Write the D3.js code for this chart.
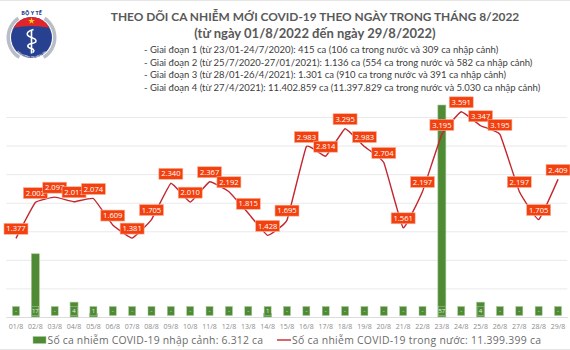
<!doctype html>
<html>
<head>
<meta charset="utf-8">
<script src="https://cdn.jsdelivr.net/npm/d3@7"></script>
<style>
  html, body { margin: 0; padding: 0; background: #fff; }
  svg { display: block; }
</style>
</head>
<body>
<script>
const days = ["01/8","02/8","03/8","04/8","05/8","06/8","07/8","08/8","09/8","10/8","11/8","12/8","13/8","14/8","15/8","16/8","17/8","18/8","19/8","20/8","21/8","22/8","23/8","24/8","25/8","26/8","27/8","28/8","29/8"];
const imported = [0,17,0,4,1,0,0,0,0,0,0,0,0,1,0,0,0,0,0,0,0,0,57,0,4,0,0,0,0];
const domestic = [1377,2002,2097,2017,2074,1609,1381,1705,2340,2010,2367,2192,1815,1428,1695,2983,2814,3295,2983,2704,1561,2197,3195,3591,3347,3195,2197,1705,2409];
const gridTicks = [0,500,1000,1500,2000,2500,3000,3500];

const titleLines = [
  "THEO DÕI CA NHIỄM MỚI COVID-19 THEO NGÀY TRONG THÁNG 8/2022",
  "(từ ngày 01/8/2022 đến ngày 29/8/2022)"
];
const phaseLines = [
  "- Giai đoạn 1 (từ 23/01-24/7/2020): 415 ca (106 ca trong nước và 309 ca nhập cảnh)",
  "- Giai đoạn 2 (từ 25/7/2020-27/01/2021): 1.136 ca (554 ca trong nước và 582 ca nhập cảnh)",
  "- Giai đoạn 3 (từ 28/01-26/4/2021): 1.301 ca (910 ca trong nước và 391 ca nhập cảnh)",
  "- Giai đoạn 4 (từ 27/4/2021): 11.402.859 ca (11.397.829 ca trong nước và 5.030 ca nhập cảnh)"
];
const legendImported = "Số ca nhiễm COVID-19 nhập cảnh: 6.312 ca";
const legendDomestic = "Số ca nhiễm COVID-19 trong nước: 11.399.399 ca";

const width = 570;
const height = 350;
const baseY = 317;

const RED = "#c4262e";
const LABEL_RED = "#f2410f";
const GREEN = "#4f8a35";
const TITLE_FONT = "Lato, 'Open Sans', sans-serif";
const LEGEND_FONT = "'Open Sans', 'Noto Sans', sans-serif";

const fmt = d3.formatLocale({ decimal: ",", thousands: ".", grouping: [3], currency: ["", ""] }).format(",d");

const x = d3.scaleBand().domain(days).range([6.3, 567.7]);
const cx = (d) => x(d) + x.bandwidth() / 2;
const yLine = d3.scaleLinear().domain([0, 3500]).range([baseY, 117]);
const yBar = d3.scaleLinear().domain([0, 57]).range([baseY, 105]);

const svg = d3.select("body").append("svg")
  .attr("width", width)
  .attr("height", height)
  .attr("viewBox", `0 0 ${width} ${height}`);

svg.append("rect").attr("width", width).attr("height", height).attr("fill", "#fff");

// Frame hairlines at the very top and bottom of the picture
svg.append("line").attr("x1", 0).attr("x2", width).attr("y1", 0.5).attr("y2", 0.5).attr("stroke", "#e6e6e6");
svg.append("line").attr("x1", 0).attr("x2", width).attr("y1", 349.5).attr("y2", 349.5).attr("stroke", "#e6e6e6");

// Logo
const logo = svg.append("g").attr("transform", "translate(31.5,37.5)");
const ring = d3.arc().innerRadius(21.5).outerRadius(25);
logo.append("path").attr("d", ring({ startAngle: 0.6, endAngle: Math.PI - 0.55 })).attr("fill", "#b9bec6");
logo.append("path").attr("d", ring({ startAngle: -Math.PI + 0.55, endAngle: -0.6 })).attr("fill", "#b9bec6");
logo.append("circle").attr("r", 20.5).attr("fill", "#27408f");
logo.append("path").attr("d", "M-14.5,-14.5 A20.5,20.5 0 0 1 14.5,-14.5 L18,-9.8 Q0,-13 -18,-9.8 Z").attr("fill", "#e0262c");
logo.append("path").attr("d", d3.symbol(d3.symbolStar, 14)()).attr("transform", "translate(0,-16.5)").attr("fill", "#f7d117");
logo.append("line").attr("x1", 0).attr("x2", 0).attr("y1", -7).attr("y2", 16).attr("stroke", "#fff").attr("stroke-width", 1.6);
logo.append("path")
  .attr("d", "M2,-8 C-6,-6 -6,-2 0,0 C6,2 6,5 0,6 C-5,7 -5,10 0,11 C3,12 3,14 1,15")
  .attr("fill", "none").attr("stroke", "#fff").attr("stroke-width", 1.5);
logo.append("text").attr("y", -22.5).attr("text-anchor", "middle")
  .attr("font-family", LEGEND_FONT).attr("font-size", 5.5).attr("font-weight", 700).attr("fill", "#27408f")
  .text("BỘ Y TẾ");
logo.append("path").attr("id", "logoArc").attr("fill", "none").attr("d", "M-19,9 A21,21 0 0 0 19,9");
logo.append("text").attr("font-family", LEGEND_FONT).attr("font-size", 3.2).attr("font-weight", 600).attr("fill", "#fff")
  .append("textPath").attr("href", "#logoArc").attr("startOffset", "50%").attr("text-anchor", "middle")
  .text("MINISTRY OF HEALTH");

// Heading
svg.append("g").selectAll("text").data(titleLines).join("text")
  .attr("x", 315)
  .attr("y", (d, i) => (i === 0 ? 21 : 38))
  .attr("text-anchor", "middle")
  .attr("font-family", TITLE_FONT)
  .attr("font-size", (d, i) => (i === 0 ? 11.9 : 13))
  .attr("font-weight", 700)
  .attr("fill", "#595959")
  .text((d) => d);

svg.append("g").selectAll("text").data(phaseLines).join("text")
  .attr("x", 144)
  .attr("y", (d, i) => 53 + i * 12.7)
  .attr("font-family", TITLE_FONT)
  .attr("font-size", 9.5)
  .attr("fill", "#404040")
  .text((d) => d);

// Gridlines
svg.append("g")
  .attr("transform", "translate(6.3,0)")
  .call(d3.axisLeft(yLine).tickValues(gridTicks).tickSize(-561).tickFormat(""))
  .call((g) => g.select(".domain").remove())
  .call((g) => g.selectAll("line").attr("stroke", "#e9e9e9"));

// X axis
svg.append("g")
  .attr("transform", `translate(0,${baseY})`)
  .call(d3.axisBottom(x).tickSize(0).tickPadding(7))
  .call((g) => g.select(".domain").attr("stroke", "#dcdcdc"))
  .call((g) => g.selectAll("text").attr("font-family", LEGEND_FONT).attr("font-size", 7).attr("fill", "#8c8c8c"));

// Bars
svg.append("g").selectAll("rect").data(imported).join("rect")
  .attr("x", (d, i) => cx(days[i]) - 4)
  .attr("width", 8)
  .attr("y", (d) => yBar(d))
  .attr("height", (d) => baseY - yBar(d))
  .attr("fill", GREEN)
  .attr("stroke", "#a9c99b")
  .attr("stroke-width", 0.6);

// Bar labels, pinned to the inside base of each bar
const barLabels = svg.append("g").selectAll("g").data(imported).join("g")
  .attr("transform", (d, i) => `translate(${cx(days[i])},311)`);
barLabels.append("rect")
  .attr("x", -3.5).attr("y", -4.5).attr("width", 7).attr("height", 9)
  .attr("fill", GREEN).attr("stroke", "#a9c99b").attr("stroke-width", 0.5);
barLabels.append("text")
  .attr("text-anchor", "middle").attr("dy", "0.35em")
  .attr("font-family", LEGEND_FONT).attr("font-size", 6).attr("fill", "#e8f0e4")
  .text((d) => (d === 0 ? "-" : d));

// Line
const line = d3.line()
  .x((d, i) => cx(days[i]))
  .y((d) => yLine(d))
  .curve(d3.curveCardinal.tension(0.7));

svg.append("path")
  .datum(domestic)
  .attr("d", line)
  .attr("fill", "none")
  .attr("stroke", RED)
  .attr("stroke-width", 1.4);

// Line labels, later days on top of earlier ones
const lineLabels = svg.append("g").selectAll("g").data(domestic).join("g")
  .attr("transform", (d, i) => `translate(${cx(days[i])},${yLine(d) - 9.5})`);
lineLabels.append("rect")
  .attr("x", -12).attr("y", -5.5).attr("width", 24).attr("height", 11)
  .attr("fill", LABEL_RED).attr("stroke", "#f9b49c").attr("stroke-width", 0.6);
lineLabels.append("text")
  .attr("text-anchor", "middle").attr("dy", "0.35em")
  .attr("font-family", LEGEND_FONT).attr("font-size", 7.6).attr("fill", "#fff")
  .text((d) => fmt(d));

// Legend
svg.append("rect").attr("x", 33).attr("y", 336.5).attr("width", 13).attr("height", 7).attr("fill", GREEN).attr("stroke", "#a9c99b").attr("stroke-width", 0.5);
svg.append("text").attr("x", 47.5).attr("y", 344)
  .attr("font-family", LEGEND_FONT).attr("font-size", 10.4).attr("fill", "#6b6b6b")
  .attr("textLength", 215.5)
  .text(legendImported);
svg.append("line").attr("x1", 277).attr("x2", 291).attr("y1", 340).attr("y2", 340).attr("stroke", RED).attr("stroke-width", 1.4);
svg.append("text").attr("x", 292).attr("y", 344)
  .attr("font-family", LEGEND_FONT).attr("font-size", 10.4).attr("fill", "#6b6b6b")
  .attr("textLength", 249)
  .text(legendDomestic);
</script>
</body>
</html>
